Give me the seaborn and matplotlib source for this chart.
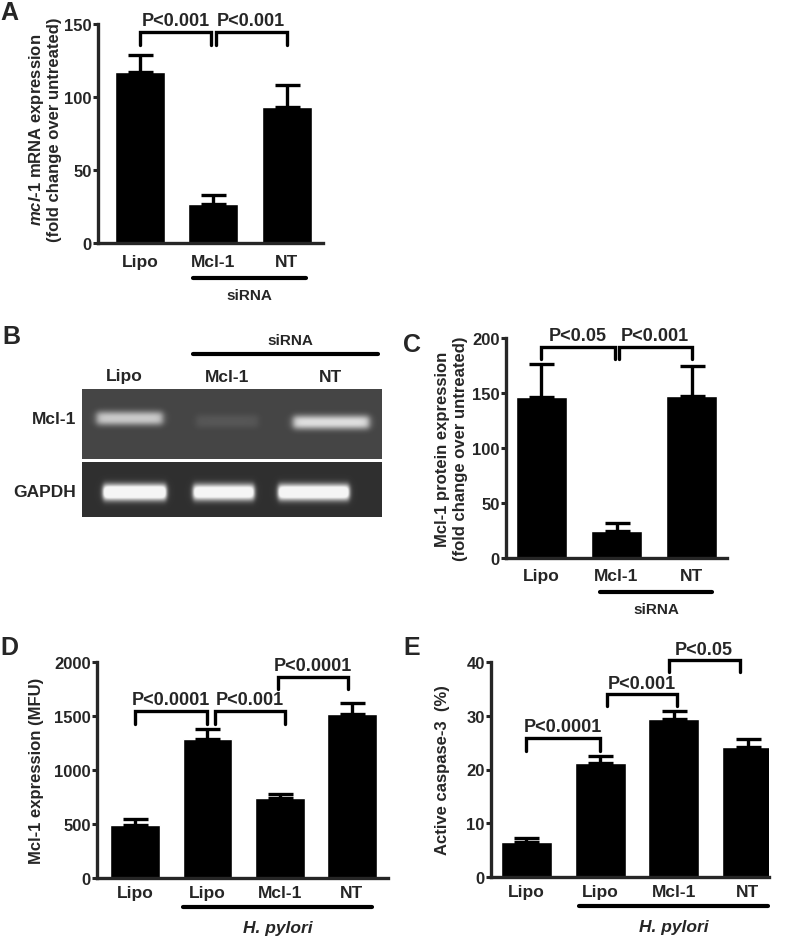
import numpy as np
import pandas as pd
import seaborn as sns
import matplotlib.pyplot as plt

# ---- data ----
a_labels = ['Lipo', 'Mcl-1', 'NT']
a_mean = [117, 27, 93]
a_err = [12, 6, 15]

c_labels = ['Lipo', 'Mcl-1', 'NT']
c_mean = [146, 25, 147]
c_err = [30, 7, 28]

d_labels = ['Lipo', 'Lipo', 'Mcl-1', 'NT']
d_mean = [490, 1290, 740, 1520]
d_err = [60, 90, 40, 100]

e_labels = ['Lipo', 'Lipo', 'Mcl-1', 'NT']
e_mean = [6.6, 21.3, 29.4, 24.2]
e_err = [0.6, 1.2, 1.4, 1.5]

# gel band intensities above background (0-1)
gel_lanes = ['Lipo', 'Mcl-1', 'NT']
mcl1_band = [0.52, 0.07, 0.6]
gapdh_band = [1.1, 1.0, 1.05]

sns.set_style('ticks')
plt.rcParams['font.family'] = ['Liberation Sans', 'DejaVu Sans']
plt.rcParams['font.weight'] = 'bold'
plt.rcParams['mathtext.fontset'] = 'custom'
plt.rcParams['mathtext.it'] = 'Liberation Sans:italic:bold'
plt.rcParams['mathtext.rm'] = 'Liberation Sans:bold'

W, H = 785, 937
fig = plt.figure(figsize=(W / 100, H / 100), dpi=100)


def px_axes(x0, x1, y0, y1):
    return fig.add_axes([x0 / W, 1 - y1 / H, (x1 - x0) / W, (y1 - y0) / H])


def ftext(x, y, s, **kw):
    fig.text(x / W, 1 - y / H, s, **kw)


def bar_panel(ax, labels, mean, err, ylim, yticks, xlim, width, pad):
    df = pd.DataFrame({'cond': [f'{i}_{l}' for i, l in enumerate(labels)],
                       'value': mean})
    sns.barplot(data=df, x='cond', y='value', color='black', saturation=1,
                width=width, errorbar=None, ax=ax)
    n = len(mean)
    ax.errorbar(range(n), mean, yerr=[np.zeros(n), err], fmt='none',
                ecolor='black', elinewidth=2.4, capsize=9, capthick=2.4)
    ax.set_ylim(*ylim)
    ax.set_xlim(*xlim)
    ax.set_yticks(yticks)
    ax.set_xticks(range(n))
    ax.set_xticklabels(labels)
    ax.set_xlabel('')
    ax.set_ylabel('')
    sns.despine(ax=ax)
    for s in ['left', 'bottom']:
        ax.spines[s].set_linewidth(2.4)
    ax.tick_params(axis='y', length=3.5, width=2.2, labelsize=12, pad=1)
    ax.tick_params(axis='x', length=0, labelsize=12.5, pad=pad)
    for t in ax.get_xticklabels() + ax.get_yticklabels():
        t.set_fontweight('bold')


def bracket(ax, x0, x1, ylo, yhi, label, fs=13):
    ax.plot([x0, x0, x1, x1], [ylo, yhi, yhi, ylo], color='black', lw=2.4,
            clip_on=False, solid_joinstyle='miter')
    ax.text((x0 + x1) / 2, yhi + (ax.get_ylim()[1] * 0.012), label,
            ha='center', va='bottom', fontsize=fs, fontweight='bold')


def group_line(ax, x0, x1, yline, ytext, label, italic=False):
    tr = ax.get_xaxis_transform()
    ax.plot([x0, x1], [yline, yline], color='black', lw=3, transform=tr,
            clip_on=False, solid_capstyle='round')
    ax.text((x0 + x1) / 2, ytext, label, transform=tr, ha='center',
            va='center', fontsize=12.5 if italic else 11, fontweight='bold',
            fontstyle='italic' if italic else 'normal')


# ---- panel A ----
axA = px_axes(98, 323, 25, 244)
bar_panel(axA, a_labels, a_mean, a_err, (0, 150), [0, 50, 100, 150],
          (-0.57, 2.49), 0.68, 8)
bracket(axA, 0, 0.97, 135.5, 144.5, 'P<0.001')
bracket(axA, 1.03, 2, 135.5, 144.5, 'P<0.001')
group_line(axA, 0.72, 2.26, -0.16, -0.237, 'siRNA')
ftext(37, 130, r'$\mathit{mcl}$-$\mathit{1}$ mRNA expression', rotation=90,
      ha='center', va='center', fontsize=12, fontweight='bold')
ftext(55, 130, '(fold change over untreated)', rotation=90,
      ha='center', va='center', fontsize=12, fontweight='bold')

# ---- panel C ----
axC = px_axes(506, 727, 339, 559)
bar_panel(axC, c_labels, c_mean, c_err, (0, 200), [0, 50, 100, 150, 200],
          (-0.47, 2.47), 0.67, 7)
bracket(axC, 0, 0.98, 181, 192, 'P<0.05')
bracket(axC, 1.03, 2, 181, 192, 'P<0.001')
group_line(axC, 0.78, 2.27, -0.155, -0.232, 'siRNA')
ftext(442, 449, 'Mcl-1 protein expression', rotation=90,
      ha='center', va='center', fontsize=12, fontweight='bold')
ftext(460, 449, '(fold change over untreated)', rotation=90,
      ha='center', va='center', fontsize=12, fontweight='bold')

# ---- panel D ----
axD = px_axes(97, 388, 663, 879)
bar_panel(axD, d_labels, d_mean, d_err, (0, 2000),
          [0, 500, 1000, 1500, 2000], (-0.53, 3.5), 0.69, 5)
bracket(axD, 0, 1, 1426, 1546, 'P<0.0001')
bracket(axD, 1.1, 2.08, 1426, 1546, 'P<0.001')
bracket(axD, 1.97, 2.95, 1750, 1861, 'P<0.0001')
group_line(axD, 0.66, 3.28, -0.134, -0.227, 'H. pylori', italic=True)
ftext(37, 771, 'Mcl-1 expression (MFU)', rotation=90,
      ha='center', va='center', fontsize=12, fontweight='bold')

# ---- panel E ----
axE = px_axes(491, 769, 663, 878)
bar_panel(axE, e_labels, e_mean, e_err, (0, 40), [0, 10, 20, 30, 40],
          (-0.48, 3.29), 0.69, 5)
bracket(axE, 0, 1, 23.4, 25.9, 'P<0.0001')
bracket(axE, 1.09, 2.04, 31.8, 34.0, 'P<0.001')
bracket(axE, 1.93, 2.89, 38.1, 40.3, 'P<0.05')
group_line(axE, 0.72, 3.27, -0.135, -0.228, 'H. pylori', italic=True)
ftext(442, 770, 'Active caspase-3  (%)', rotation=90,
      ha='center', va='center', fontsize=12, fontweight='bold')

# ---- panel B (gel) ----
axB = px_axes(82, 382, 390, 518)
axB.set_facecolor('white')
xx = np.arange(0, 300, 0.5)


def gel_strip(y_top, y_bot, bg, bands, centers, widths, ycs, hh, edge):
    yy = np.arange(y_top, y_bot, 0.5)
    X, Y = np.meshgrid(xx, yy)
    img = np.full(X.shape, bg)
    for inten, c, w, yc in zip(bands, centers, widths, ycs):
        px = 0.5 * (np.tanh((X - (c - w / 2)) / edge)
                    - np.tanh((X - (c + w / 2)) / edge))
        py = np.exp(-np.abs((Y - yc) / hh) ** 2.5)
        img += inten * px * py
    axB.imshow(np.clip(img, 0, 0.96), cmap='gray', vmin=0, vmax=1,
               aspect='auto', extent=(0, 300, y_bot, y_top),
               interpolation='bilinear')


gel_strip(0, 70, 0.27, mcl1_band, [47.5, 145, 249], [66, 62, 76],
          [29, 32, 33], 7, 4)
gel_strip(73, 128, 0.19, gapdh_band, [52.5, 141.5, 231.5], [63, 61, 71],
          [103, 103, 103], 8, 2.5)
axB.set_xlim(0, 300)
axB.set_ylim(128, 0)
axB.axis('off')

ftext(124, 377, 'Lipo', ha='center', va='center', fontsize=12.5, fontweight='bold')
ftext(227, 377, 'Mcl-1', ha='center', va='center', fontsize=12.5, fontweight='bold')
ftext(331, 377, 'NT', ha='center', va='center', fontsize=12.5, fontweight='bold')
ftext(290, 341, 'siRNA', ha='center', va='center', fontsize=11, fontweight='bold')
fig.add_artist(plt.Line2D([193 / W, 378 / W], [1 - 355 / H, 1 - 355 / H],
                          color='black', lw=3, solid_capstyle='round'))
ftext(76, 420, 'Mcl-1', ha='right', va='center', fontsize=12.5, fontweight='bold')
ftext(76, 493, 'GAPDH', ha='right', va='center', fontsize=12.5, fontweight='bold')

# ---- panel letters ----
for letter, (x, y) in zip('ABCDE', [(9, 13), (11, 337), (412, 345),
                                    (9, 648), (412, 648)]):
    ftext(x, y, letter, ha='center', va='center', fontsize=18,
          fontweight='bold')

fig.savefig('out.png', dpi=100)
